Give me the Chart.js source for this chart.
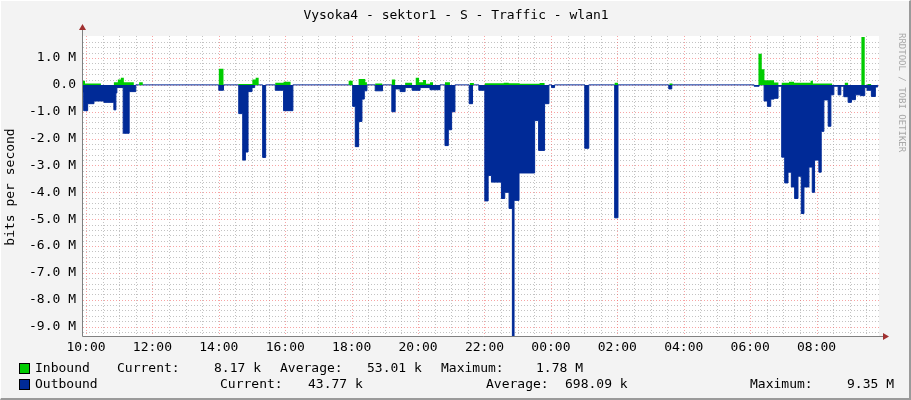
<!DOCTYPE html>
<html>
<head>
<meta charset="utf-8">
<script src="https://cdn.jsdelivr.net/npm/chart.js@4"></script>
<style>
  html, body { margin: 0; padding: 0; background: #f3f3f3; }
  #wrap { position: relative; width: 911px; height: 400px; box-sizing: border-box;
          border-right: 2px solid #9a9a9a; border-bottom: 2px solid #9a9a9a; border-top: 1px solid #fff; border-left: 1px solid #fff; }
  canvas { display: block; }
</style>
</head>
<body>
<div id="wrap"><canvas id="traffic"></canvas></div>
<script>
// hours after 10:00, value in Mbit/s (outbound is drawn negative)
const outTimes = [-0.12, -0.07, 0.05, 0.24, 0.54, 0.84, 0.9, 0.93, 1.12, 1.3, 1.5,
  4.0, 4.14, 4.6, 4.72, 4.8, 4.88, 5.0, 5.08, 5.32, 5.41, 5.7, 5.95, 6.23,
  8.03, 8.11, 8.21, 8.31, 8.38, 8.46, 8.71, 8.93, 9.21, 9.31, 9.46, 9.61, 9.82, 10.06, 10.36, 10.66,
  10.81, 10.91, 11.01, 11.11, 11.54, 11.64, 11.83, 12.01, 12.11, 12.21, 12.51, 12.61, 12.74, 12.84, 12.89,
  13.04, 13.51, 13.63, 13.81, 13.94, 14.02, 14.11, 15.02, 15.14, 15.92, 16.02, 17.55, 17.64,
  20.12, 20.27, 20.42, 20.52, 20.62, 20.72, 20.84, 20.95, 21.04, 21.14, 21.24, 21.34, 21.44, 21.54, 21.62,
  21.77, 21.87, 21.94, 22.07, 22.14, 22.22, 22.35, 22.43, 22.52, 22.65, 22.73, 22.82, 22.95, 23.05, 23.17,
  23.32, 23.45, 23.52, 23.65, 23.77, 23.84];
const outValues = [-0.28, -0.96, -0.7, -0.6, -0.65, -0.93, -0.3, -0.1, -1.8, -0.25, 0,
  -0.2, 0, -1.07, -2.8, -2.5, -0.25, -0.1, 0, -2.7, 0, -0.2, -0.96, 0,
  -0.8, -2.3, -1.36, -0.53, -0.22, 0, -0.22, 0, -1.0, -0.15, -0.25, -0.1, -0.2, -0.1, -0.18, 0,
  -2.26, -1.67, -1.0, 0, -0.7, 0, -0.2, -4.32, -3.37, -3.62, -4.23, -4.0, -4.6, -9.35, -4.3,
  -3.28, -1.33, -2.44, -0.7, 0, -0.1, 0, -2.36, 0, -4.95, 0, -0.15, 0,
  -0.05, 0, -0.6, -0.8, -0.53, -0.5, -0.05, -2.69, -3.65, -3.25, -3.8, -4.23, -3.4, -4.79, -3.8,
  -3.06, -4.0, -2.8, -3.25, -1.73, -0.56, -1.54, -0.37, -0.05, -0.37, -0.05, -0.44, -0.65, -0.55, -0.37,
  -0.4, -0.1, -0.2, -0.43, -0.08, 0];

const inTimes = [-0.12, -0.03, 0.45, 0.84, 0.96, 1.05, 1.14, 1.44, 1.6, 1.71,
  4.0, 4.14, 4.59, 5.01, 5.11, 5.2, 5.7, 5.95, 6.16,
  7.91, 8.03, 8.21, 8.41, 8.46, 8.71, 8.92, 9.21, 9.31, 9.61, 9.82, 9.93, 10.03, 10.15, 10.24, 10.36, 10.45,
  10.81, 10.96, 11.56, 11.68, 12.01, 12.58, 12.73, 13.06, 13.66, 13.81, 15.92, 16.02, 17.57, 17.66,
  20.25, 20.35, 20.43, 20.72, 20.85, 20.95, 21.17, 21.32, 21.82, 21.89, 22.47, 22.85, 22.95,
  23.35, 23.45, 23.53, 23.65];
const inValues = [0.15, 0.05, 0, 0.1, 0.2, 0.27, 0.1, 0, 0.1, 0,
  0.6, 0, 0.03, 0.2, 0.27, 0, 0.08, 0.12, 0,
  0.15, 0, 0.22, 0.1, 0, 0.05, 0, 0.2, 0, 0.08, 0, 0.27, 0.1, 0.18, 0.04, 0.1, 0,
  0.1, 0, 0.07, 0, 0.06, 0.08, 0.06, 0.04, 0.07, 0, 0.08, 0, 0.05, 0,
  1.16, 0.58, 0.17, 0.09, 0, 0.08, 0.12, 0.08, 0.15, 0.05, 0, 0.08, 0,
  1.78, 0, 0.03, 0];

const hourLabels = ['10:00', '12:00', '14:00', '16:00', '18:00', '20:00', '22:00', '00:00', '02:00', '04:00', '06:00', '08:00'];
const yLabels = ['1.0 M', '0.0', '-1.0 M', '-2.0 M', '-3.0 M', '-4.0 M', '-5.0 M', '-6.0 M', '-7.0 M', '-8.0 M', '-9.0 M'];

const legendIn = ['Current:', '8.17 k', 'Average:', '53.01 k', 'Maximum:', '1.78 M'];
const legendOut = ['Current:', '43.77 k', 'Average:', '698.09 k', 'Maximum:', '9.35 M'];

const GREEN = '#00cc00';
const BLUE = '#002a97';
const FONT = "13px 'DejaVu Sans Mono', monospace";

const toPoints = (ts, vs) => ts.map((t, i) => ({ x: t, y: vs[i] }));

const rrdDecor = {
    id: 'rrdDecor',
    beforeDatasetsDraw(chart) {
        const { ctx, chartArea: a, scales: { x, y } } = chart;
        ctx.save();
        ctx.fillStyle = '#ffffff';
        ctx.fillRect(a.left, a.top, a.right - a.left, a.bottom - a.top);
        ctx.lineWidth = 1;
        ctx.setLineDash([1, 2]);
        // minor grid
        ctx.strokeStyle = 'rgba(170,170,170,0.7)';
        for (let h = 0; h <= 24; h += 0.5) {
            if (h % 2 === 0) continue;
            const px = Math.round(x.getPixelForValue(h)) + 0.5;
            if (px > a.right) break;
            ctx.beginPath(); ctx.moveTo(px, a.top); ctx.lineTo(px, a.bottom); ctx.stroke();
        }
        for (let v = -9.2; v <= 1.8; v += 0.2) {
            if (Math.abs(v - Math.round(v)) < 0.01) continue;
            const py = Math.round(y.getPixelForValue(v)) + 0.5;
            ctx.beginPath(); ctx.moveTo(a.left, py); ctx.lineTo(a.right, py); ctx.stroke();
        }
        // major grid
        ctx.strokeStyle = 'rgba(240,90,90,0.55)';
        for (let i = 0; i < hourLabels.length; i++) {
            const px = Math.round(x.getPixelForValue(i * 2)) + 0.5;
            ctx.beginPath(); ctx.moveTo(px, a.top); ctx.lineTo(px, a.bottom); ctx.stroke();
        }
        for (let v = 1; v >= -9; v--) {
            const py = Math.round(y.getPixelForValue(v)) + 0.5;
            ctx.beginPath(); ctx.moveTo(a.left, py); ctx.lineTo(a.right, py); ctx.stroke();
        }
        ctx.restore();
    },
    afterDatasetsDraw(chart) {
        const { ctx, chartArea: a, scales: { x, y } } = chart;
        ctx.save();
        // axes
        ctx.strokeStyle = '#808080';
        ctx.lineWidth = 1;
        ctx.beginPath();
        ctx.moveTo(a.left - 0.5, a.top - 8); ctx.lineTo(a.left - 0.5, a.bottom + 0.5);
        ctx.lineTo(a.right + 5, a.bottom + 0.5);
        ctx.stroke();
        ctx.fillStyle = '#a03030';
        ctx.beginPath();
        ctx.moveTo(a.right + 10, a.bottom + 0.5); ctx.lineTo(a.right + 4, a.bottom - 3); ctx.lineTo(a.right + 4, a.bottom + 4); ctx.fill();
        ctx.beginPath();
        ctx.moveTo(a.left - 0.5, a.top - 12); ctx.lineTo(a.left - 4, a.top - 6); ctx.lineTo(a.left + 3, a.top - 6); ctx.fill();

        ctx.fillStyle = '#000';
        ctx.font = FONT;
        // x labels
        ctx.textAlign = 'center'; ctx.textBaseline = 'top';
        hourLabels.forEach((lab, i) => ctx.fillText(lab, x.getPixelForValue(i * 2), a.bottom + 5));
        // y labels
        ctx.textAlign = 'right'; ctx.textBaseline = 'middle';
        yLabels.forEach((lab, i) => ctx.fillText(lab, a.left - 7, y.getPixelForValue(1 - i)));

        // title
        ctx.textAlign = 'center';
        ctx.fillText('Vysoka4 - sektor1 - S - Traffic - wlan1', 455, 15);
        // y title
        ctx.save();
        ctx.translate(10, 186); ctx.rotate(-Math.PI / 2);
        ctx.fillText('bits per second', 0, 0);
        ctx.restore();
        // watermark
        ctx.save();
        ctx.translate(900, 32); ctx.rotate(Math.PI / 2);
        ctx.fillStyle = '#a8a8a8';
        ctx.font = "9px 'DejaVu Sans Mono', monospace";
        ctx.textAlign = 'left';
        ctx.fillText('RRDTOOL / TOBI OETIKER', 0, 0);
        ctx.restore();

        // legend
        ctx.textAlign = 'left';
        const rows = [
            { color: GREEN, name: 'Inbound', y: 368, items: legendIn, xs: [116, 213, 279, 366, 440, 535] },
            { color: BLUE, name: 'Outbound', y: 384, items: legendOut, xs: [219, 307, 485, 564, 749, 846] },
        ];
        rows.forEach(r => {
            ctx.fillStyle = '#000';
            ctx.fillRect(18, r.y - 6, 11, 11);
            ctx.fillStyle = r.color;
            ctx.fillRect(19, r.y - 5, 9, 9);
            ctx.fillStyle = '#000';
            ctx.fillText(r.name, 34, r.y);
            r.items.forEach((t, i) => ctx.fillText(t, r.xs[i], r.y));
        });
        ctx.restore();
    }
};

new Chart(document.getElementById('traffic'), {
    type: 'line',
    data: {
        datasets: [
            {
                label: 'Inbound',
                data: toPoints(inTimes, inValues),
                stepped: 'before',
                fill: 'origin',
                backgroundColor: GREEN,
                borderWidth: 0,
                pointRadius: 0,
            },
            {
                label: 'Outbound',
                data: toPoints(outTimes, outValues),
                stepped: 'before',
                fill: 'origin',
                backgroundColor: BLUE,
                borderColor: BLUE,
                borderWidth: 1,
                pointRadius: 0,
            },
        ],
    },
    options: {
        responsive: true,
        maintainAspectRatio: false,
        animation: false,
        layout: { padding: { left: 82, right: 30, top: 35, bottom: 62 } },
        plugins: { legend: { display: false }, tooltip: { enabled: false } },
        scales: {
            x: { type: 'linear', display: false, min: -0.09, max: 23.88 },
            y: { type: 'linear', display: false, min: -9.35, max: 1.82 },
        },
    },
    plugins: [rrdDecor],
});
</script>
</body>
</html>
